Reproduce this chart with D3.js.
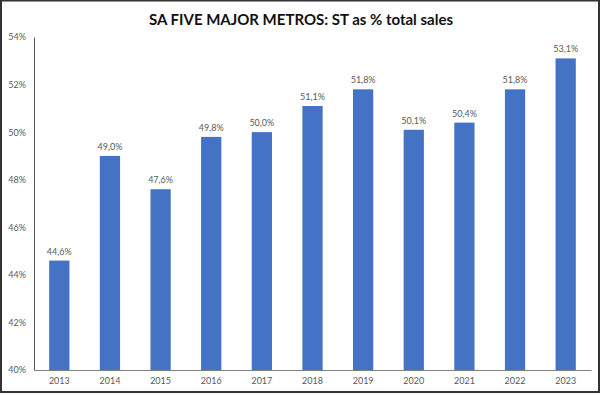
<!DOCTYPE html>
<html><head><meta charset="utf-8">
<script src="https://cdn.jsdelivr.net/npm/d3@7"></script>
<style>body{margin:0;background:#fff;}svg{display:block;}</style>
</head><body>
<svg id="c" width="602" height="395"></svg>
<script>
const years = ["2013","2014","2015","2016","2017","2018","2019","2020","2021","2022","2023"];
const shares = [44.6,49.0,47.6,49.8,50.0,51.1,51.8,50.1,50.4,51.8,53.1];
const yTicks = [40,42,44,46,48,50,52,54];
const title = "SA FIVE MAJOR METROS: ST as % total sales";

const svg = d3.select("#c");
const font = "Lato, 'Open Sans', sans-serif";
// frame
svg.append("rect").attr("x",0).attr("y",0).attr("width",602).attr("height",395).attr("fill","#fff");
svg.append("rect").attr("x",1).attr("y",0.5).attr("width",598).attr("height",391.5)
  .attr("fill","none").attr("stroke","#333").attr("stroke-width",2);

const x = d3.scaleBand().domain(years).range([34,591]).paddingInner(0.6).paddingOuter(0.3);
const y = d3.scaleLinear().domain([40,54]).range([370,37]);

svg.append("text").attr("x",301).attr("y",25).attr("text-anchor","middle")
  .attr("font-family",font).attr("font-weight","bold").attr("font-size",15).attr("fill","#111").text(title);

svg.append("g").selectAll("rect").data(years).join("rect")
  .attr("x",d=>x(d)).attr("width",x.bandwidth())
  .attr("y",(d,i)=>y(shares[i])).attr("height",(d,i)=>y(40)-y(shares[i]))
  .attr("fill","#4472C4");

svg.append("g").selectAll("text").data(years).join("text")
  .attr("x",d=>x(d)+x.bandwidth()/2).attr("y",(d,i)=>y(shares[i])-6)
  .attr("text-anchor","middle").attr("font-family",font).attr("font-size",9).attr("fill","#595959")
  .text((d,i)=>shares[i].toFixed(1).replace(".",",")+"%");

const ya = svg.append("g").attr("transform","translate(34,0)")
  .call(d3.axisLeft(y).tickValues(yTicks).tickSize(0).tickPadding(8).tickFormat(d=>d+"%"));
ya.select(".domain").attr("stroke","#595959");
ya.selectAll("text").attr("font-family",font).attr("font-size",9).attr("fill","#595959");

const xa = svg.append("g").attr("transform","translate(0,370)")
  .call(d3.axisBottom(x).tickSize(0).tickPadding(8));
xa.select(".domain").attr("stroke","#7f7f7f").attr("stroke-width",1.2);
xa.selectAll("text").attr("font-family",font).attr("font-size",9).attr("fill","#595959");
</script>
</body></html>
